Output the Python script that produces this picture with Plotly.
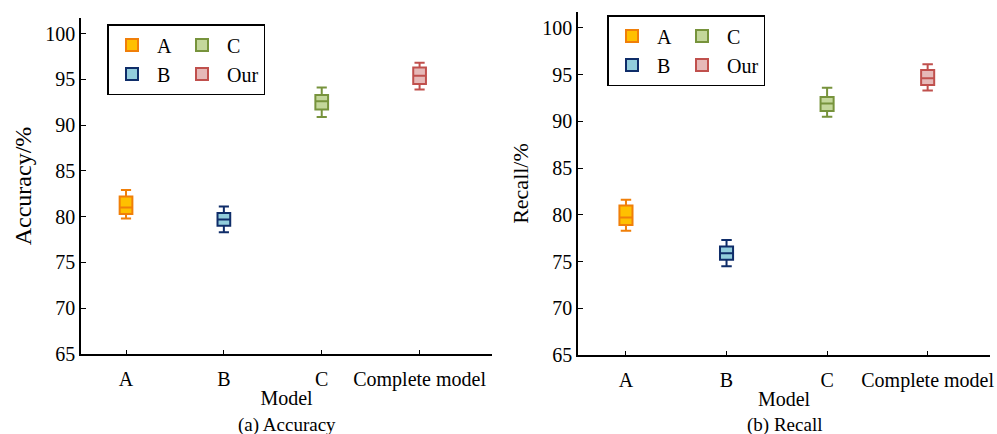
import plotly.graph_objects as go

categories = ["A", "B", "C", "Complete model"]
series_names = ["A", "B", "C", "Our"]

# Accuracy (%) box statistics per model: lower, q1, median, q3, upper
acc_lower = [79.8, 78.3, 90.9, 93.9]
acc_q1 = [80.3, 79.0, 91.7, 94.5]
acc_median = [81.0, 79.7, 92.6, 95.4]
acc_q3 = [82.2, 80.4, 93.3, 96.3]
acc_upper = [82.9, 81.1, 94.1, 96.8]

# Recall (%) box statistics per model
rec_lower = [78.3, 74.5, 90.5, 93.3]
rec_q1 = [78.9, 75.2, 91.1, 93.9]
rec_median = [79.7, 75.9, 91.9, 94.6]
rec_q3 = [81.0, 76.6, 92.6, 95.5]
rec_upper = [81.6, 77.3, 93.6, 96.1]

y_ticks = [65, 70, 75, 80, 85, 90, 95, 100]

fill_colors = ["#FFC000", "#92CDDC", "#C4D79B", "#E6B9B8"]
line_colors = ["#F07F09", "#0F2D69", "#77933C", "#C0504D"]
groups = ["g1", "g1", "g2", "g2"]

FONT = "Liberation Serif, Times New Roman, serif"

fig = go.Figure()

def add_boxes(lower, q1, med, q3, upper, xaxis, yaxis, legend, prefix):
    for i, name in enumerate(series_names):
        fig.add_trace(go.Box(
            name=name,
            x=[categories[i]],
            lowerfence=[lower[i]], q1=[q1[i]], median=[med[i]],
            q3=[q3[i]], upperfence=[upper[i]],
            fillcolor=fill_colors[i],
            line=dict(color=line_colors[i], width=2),
            width=0.13, whiskerwidth=0.8,
            boxpoints=False, hoverinfo="skip",
            xaxis=xaxis, yaxis=yaxis, legend=legend,
            legendgroup=prefix + groups[i],
        ))

add_boxes(acc_lower, acc_q1, acc_median, acc_q3, acc_upper, "x", "y", "legend", "L")
add_boxes(rec_lower, rec_q1, rec_median, rec_q3, rec_upper, "x2", "y2", "legend2", "R")

H = 434.0
W = 997.0

axis_common = dict(
    showline=True, linecolor="black", linewidth=1.5,
    ticks="inside", ticklen=4, tickwidth=1, tickcolor="black",
    showgrid=False, zeroline=False, automargin=False,
    tickfont=dict(family=FONT, size=20, color="black"),
)

xcommon = dict(axis_common, type="category", categoryorder="array",
               categoryarray=categories, ticklabelstandoff=6,
               title=dict(text="Model", font=dict(family=FONT, size=20, color="black"), standoff=1))

ycommon = dict(axis_common, range=[65, 101.7], tickvals=y_ticks, ticklen=5)

legend_common = dict(
    orientation="h", traceorder="grouped",
    font=dict(family=FONT, size=20, color="black"),
    bordercolor="black", borderwidth=1.5, bgcolor="white",
    xanchor="left", yanchor="top", xref="paper", yref="paper",
    itemwidth=40,
)

fig.update_layout(
    width=997, height=434,
    margin=dict(l=0, r=0, t=0, b=0),
    plot_bgcolor="white", paper_bgcolor="white",
    boxmode="overlay",
    showlegend=True,
    xaxis=dict(xcommon, domain=[81 / W, 492 / W], anchor="y", range=[-0.46, 3.74]),
    yaxis=dict(ycommon, domain=[(H - 354) / H, (H - 18) / H], anchor="x",
               title=dict(text="Accuracy/%", font=dict(family=FONT, size=24, color="black"), standoff=7)),
    xaxis2=dict(xcommon, domain=[578 / W, 990 / W], anchor="y2", range=[-0.477, 3.62]),
    yaxis2=dict(ycommon, domain=[(H - 355) / H, (H - 12) / H], anchor="x2",
                title=dict(text="Recall/%", font=dict(family=FONT, size=22, color="black"), standoff=8)),
    legend=dict(legend_common, x=107 / W, y=1 - 24 / H),
    legend2=dict(legend_common, x=607 / W, y=1 - 15 / H),
    annotations=[
        dict(text="(a) Accuracy", x=(81 + 492) / 2 / W, y=(H - 425) / H, xref="paper", yref="paper",
             xanchor="center", yanchor="middle", showarrow=False,
             font=dict(family=FONT, size=19, color="black")),
        dict(text="(b) Recall", x=(578 + 990) / 2 / W, y=(H - 425) / H, xref="paper", yref="paper",
             xanchor="center", yanchor="middle", showarrow=False,
             font=dict(family=FONT, size=19, color="black")),
    ],
)

fig.write_html("out.html")
